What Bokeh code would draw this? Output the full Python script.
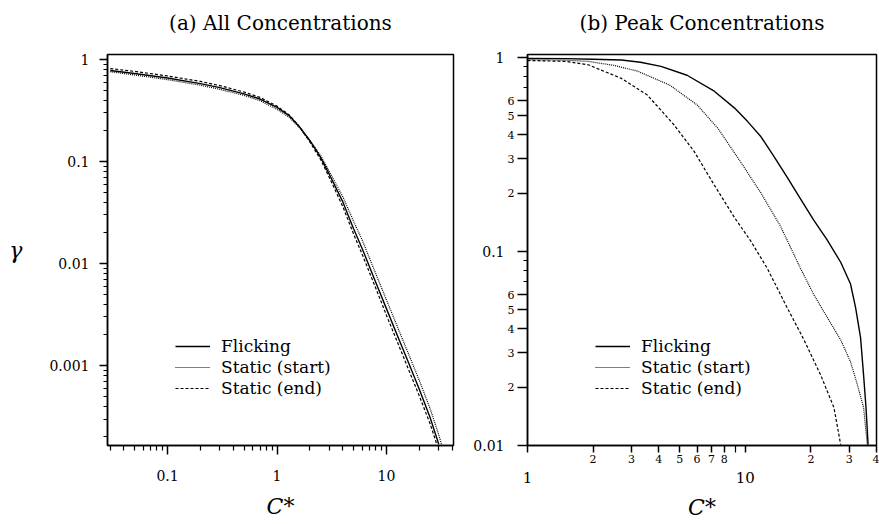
from bokeh.plotting import figure
from bokeh.models import FixedTicker, LogAxis, Legend, LegendItem, Title, Range1d
from bokeh.layouts import row
from bokeh.embed import file_html
from bokeh.resources import INLINE

# ---------------- data: (a) All Concentrations ----------------
all_flick_c = [0.03, 0.05, 0.1, 0.2, 0.3, 0.5, 0.7, 1.0, 1.3, 1.6, 2.0, 2.5, 3.0, 4.0, 5.0, 6.0, 8.0, 10, 13, 16, 20, 25, 30]
all_flick = [0.78, 0.73, 0.66, 0.58, 0.53, 0.46, 0.41, 0.34, 0.28, 0.22, 0.16, 0.11, 0.075, 0.04, 0.022, 0.014, 0.0065, 0.0036, 0.0018, 0.00105, 0.00058, 0.00031, 0.00017]

all_start_c = [0.03, 0.05, 0.1, 0.2, 0.3, 0.5, 0.7, 1.0, 1.3, 1.6, 2.0, 2.5, 3.0, 4.0, 5.0, 6.0, 8.0, 10, 13, 16, 20, 25, 30, 32]
all_start = [0.76, 0.705, 0.635, 0.56, 0.51, 0.445, 0.395, 0.325, 0.27, 0.215, 0.16, 0.115, 0.08, 0.045, 0.026, 0.017, 0.0079, 0.0044, 0.0022, 0.00128, 0.00071, 0.00038, 0.00021, 0.000165]

all_end_c = [0.03, 0.05, 0.1, 0.2, 0.3, 0.5, 0.7, 1.0, 1.3, 1.6, 2.0, 2.5, 3.0, 4.0, 5.0, 6.0, 8.0, 10, 13, 16, 20, 25, 30]
all_end = [0.815, 0.765, 0.69, 0.61, 0.555, 0.48, 0.425, 0.35, 0.285, 0.22, 0.155, 0.105, 0.07, 0.036, 0.0195, 0.0123, 0.0057, 0.0031, 0.00156, 0.0009, 0.0005, 0.00027, 0.000148]

# ---------------- data: (b) Peak Concentrations ----------------
peak_flick_c = [1.0, 1.5, 2.0, 2.7, 3.3, 4.1, 5.4, 7.2, 8.9, 10.2, 11.8, 13.5, 15.6, 18.0, 20.6, 23.7, 27.4, 30.4, 32.1, 33.8, 34.9, 35.8, 36.6]
peak_flick = [0.99, 0.987, 0.98, 0.97, 0.945, 0.90, 0.81, 0.67, 0.55, 0.47, 0.39, 0.31, 0.24, 0.185, 0.145, 0.115, 0.088, 0.068, 0.051, 0.036, 0.023, 0.0157, 0.0101]

peak_start_c = [1.0, 1.5, 1.9, 2.5, 3.2, 4.5, 6.0, 7.5, 9.5, 11.8, 14.5, 17.9, 20.6, 23.7, 27.4, 30.4, 32.5, 34.9, 36.3]
peak_start = [0.975, 0.968, 0.955, 0.91, 0.85, 0.72, 0.57, 0.43, 0.29, 0.20, 0.135, 0.082, 0.06, 0.046, 0.035, 0.027, 0.021, 0.0157, 0.0101]

peak_end_c = [1.0, 1.5, 1.9, 2.7, 3.55, 4.7, 5.8, 7.2, 8.9, 10.6, 12.6, 15.6, 18.6, 22.2, 25.5, 27.4]
peak_end = [0.965, 0.955, 0.917, 0.78, 0.64, 0.45, 0.33, 0.22, 0.15, 0.113, 0.082, 0.051, 0.035, 0.023, 0.0157, 0.0101]

series_labels = ["Flicking", "Static (start)", "Static (end)"]
panel_titles = ["(a) All Concentrations", "(b) Peak Concentrations"]

# ---------------- ticks ----------------
a_x_major = [0.1, 1, 10]
a_x_major_labels = ["0.1", "1", "10"]
a_x_minor = [0.03, 0.04, 0.05, 0.06, 0.07, 0.08, 0.09, 0.2, 0.3, 0.4, 0.5, 0.6, 0.7, 0.8, 0.9,
             2, 3, 4, 5, 6, 7, 8, 9, 20, 30, 40]
a_y_major = [0.001, 0.01, 0.1, 1]
a_y_major_labels = ["0.001", "0.01", "0.1", "1"]
a_y_minor = [0.0002, 0.0003, 0.0004, 0.0005, 0.0006, 0.0007, 0.0008, 0.0009,
             0.002, 0.003, 0.004, 0.005, 0.006, 0.007, 0.008, 0.009,
             0.02, 0.03, 0.04, 0.05, 0.06, 0.07, 0.08, 0.09,
             0.2, 0.3, 0.4, 0.5, 0.6, 0.7, 0.8, 0.9]

b_x_small = [1, 2, 3, 4, 5, 6, 7, 8, 10, 20, 30, 40]
b_x_small_labels = ["", "2", "3", "4", "5", "6", "7", "8", "", "2", "3", "4"]
b_x_minor = [9]
b_x_big = [1, 10]
b_x_big_labels = ["1", "10"]

b_y_small = [0.01, 0.02, 0.03, 0.04, 0.05, 0.06, 0.1, 0.2, 0.3, 0.4, 0.5, 0.6, 1]
b_y_small_labels = ["", "2", "3", "4", "5", "6", "", "2", "3", "4", "5", "6", ""]
b_y_minor = [0.07, 0.08, 0.09, 0.7, 0.8, 0.9]
b_y_big = [0.01, 0.1, 1]
b_y_big_labels = ["0.01", "0.1", "1"]

SERIF = "DejaVu Serif"
H = 524


def style_axis(ax, size="14px"):
    ax.axis_line_color = "black"
    ax.axis_line_width = 1.5
    ax.major_tick_line_color = "black"
    ax.major_tick_line_width = 1.5
    ax.minor_tick_line_color = "black"
    ax.minor_tick_line_width = 1.2
    ax.major_tick_in = 0
    ax.minor_tick_in = 0
    ax.major_label_text_font = SERIF
    ax.major_label_text_font_size = size
    ax.major_label_text_color = "black"
    ax.axis_label_text_font = SERIF
    ax.axis_label_text_font_size = "22px"
    ax.axis_label_text_font_style = "italic"
    ax.axis_label_text_color = "black"


def make_fig(width, xr, yr, bl, br, title):
    p = figure(width=width, height=H, x_axis_type="log", y_axis_type="log",
               x_range=Range1d(*xr), y_range=Range1d(*yr),
               toolbar_location=None, output_backend="svg",
               min_border_left=bl, min_border_right=br,
               min_border_top=53, min_border_bottom=79)
    p.grid.visible = False
    p.outline_line_color = "black"
    p.outline_line_width = 1.5
    p.background_fill_color = "white"
    p.border_fill_color = "white"
    p.title = Title(text=title, align="center", text_font=SERIF, text_font_size="20px",
                    text_font_style="normal", text_color="black", standoff=16)
    # thin spacer between the title and the frame
    p.add_layout(Title(text=" ", text_font_size="1px", standoff=9), "above")
    return p


def add_lines(p, xs, ys, legend_x):
    styles = [dict(line_dash="solid", line_width=1.4),
              dict(line_dash="1 1", line_width=1.2),
              dict(line_dash="3 2", line_width=1.2)]
    items = []
    for x, y, lab, st in zip(xs, ys, series_labels, styles):
        r = p.line(x, y, line_color="black", **st)
        items.append(LegendItem(label=lab, renderers=[r]))
    leg = Legend(items=items, location=(legend_x, 47), border_line_color=None,
                 background_fill_alpha=0, padding=0, margin=0, spacing=1,
                 glyph_width=35, glyph_height=20, label_height=20, label_standoff=11,
                 label_text_font=SERIF, label_text_font_size="17px", label_text_color="black")
    p.add_layout(leg)


# ---------------- panel (a) ----------------
pa = make_fig(460, (0.0283, 40.9), (1.65e-4, 1.12), 107, 7, panel_titles[0])
xa = pa.xaxis[0]
style_axis(xa)
xa.ticker = FixedTicker(ticks=a_x_major, minor_ticks=a_x_minor)
xa.major_label_overrides = dict(zip(a_x_major, a_x_major_labels))
xa.major_tick_out = 9
xa.minor_tick_out = 5
xa.major_label_standoff = 15
xa.axis_label = "C*"
xa.axis_label_standoff = 10

ya = pa.yaxis[0]
style_axis(ya)
ya.ticker = FixedTicker(ticks=a_y_major, minor_ticks=a_y_minor)
ya.major_label_overrides = dict(zip(a_y_major, a_y_major_labels))
ya.major_tick_out = 8
ya.minor_tick_out = 4
ya.major_label_standoff = 10
ya.axis_label = "γ"
ya.axis_label_orientation = "horizontal"
ya.axis_label_standoff = 24

add_lines(pa, [all_flick_c, all_start_c, all_end_c], [all_flick, all_start, all_end], 68)

# ---------------- panel (b) ----------------
pb = make_fig(419, (1, 40), (0.01, 1.036), 67, 3, panel_titles[1])
xb = pb.xaxis[0]
style_axis(xb, "11px")
xb.ticker = FixedTicker(ticks=b_x_small, minor_ticks=b_x_minor)
xb.major_label_overrides = dict(zip(b_x_small, b_x_small_labels))
xb.major_tick_out = 7
xb.minor_tick_out = 7
xb.major_label_standoff = 2

xb2 = LogAxis(ticker=FixedTicker(ticks=b_x_big, minor_ticks=[]))
style_axis(xb2, "15px")
xb2.major_label_overrides = dict(zip(b_x_big, b_x_big_labels))
xb2.axis_line_color = None
xb2.major_tick_line_color = None
xb2.minor_tick_line_color = None
xb2.major_tick_out = 0
xb2.minor_tick_out = 0
xb2.major_label_standoff = 6
xb2.axis_label = "C*"
xb2.axis_label_standoff = 9
pb.add_layout(xb2, "below")

yb = pb.yaxis[0]
style_axis(yb, "11px")
yb.ticker = FixedTicker(ticks=b_y_small, minor_ticks=b_y_minor)
yb.major_label_overrides = dict(zip(b_y_small, b_y_small_labels))
yb.major_tick_out = 10
yb.minor_tick_out = 4
yb.major_label_standoff = 3

yb2 = LogAxis(ticker=FixedTicker(ticks=b_y_big, minor_ticks=[]))
style_axis(yb2)
yb2.major_label_overrides = dict(zip(b_y_big, b_y_big_labels))
yb2.axis_line_color = None
yb2.major_tick_line_color = None
yb2.minor_tick_line_color = None
yb2.major_tick_out = 0
yb2.minor_tick_out = 0
yb2.major_label_standoff = 0
pb.add_layout(yb2, "left")

add_lines(pb, [peak_flick_c, peak_start_c, peak_end_c], [peak_flick, peak_start, peak_end], 68)

layout = row(pa, pb)
open("out.html", "w").write(file_html(layout, INLINE))
